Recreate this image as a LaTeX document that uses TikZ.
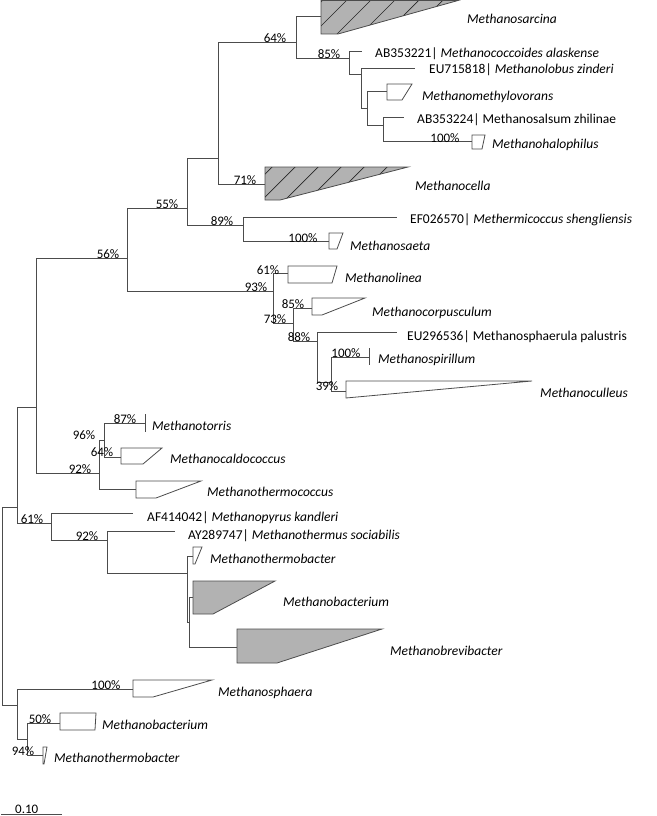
\documentclass[tikz,border=0pt]{standalone}
\usepackage{fontspec}
\setmainfont{Carlito}
\begin{document}
\begin{tikzpicture}[x=1pt,y=-1pt,
  br/.style={draw=black!70, line width=0.8pt},
  cl/.style={draw=black!70, line width=0.8pt, fill=white, line join=miter},
  clg/.style={cl, fill=black!30},
  hatchline/.style={draw=black!85, line width=0.7pt},
  pct/.style={font=\fontsize{13}{13}\selectfont, inner sep=0pt, text height=9pt, text depth=0pt},
  lab/.style={font=\fontsize{13.5}{13.5}\selectfont\itshape, inner sep=0pt, anchor=west, text height=11pt, text depth=3pt},
  leaf/.style={font=\fontsize{13.5}{13.5}\selectfont, inner sep=0pt, anchor=west, text height=11pt, text depth=3pt}]
\useasboundingbox (0,0) rectangle (656,816);

% ---------- internal nodes ----------
\coordinate (root) at (2,606);
\coordinate (u17) at (17,507);
\coordinate (d17) at (17,705);
\coordinate (n36) at (36,407);
\coordinate (n127) at (127,258);
\coordinate (n187) at (187,208);
\coordinate (n218) at (218,158);
\coordinate (n296) at (296,42);
\coordinate (n349) at (349,58);
\coordinate (n361) at (361,74);
\coordinate (n367) at (367,108);
\coordinate (n383) at (383,125);
\coordinate (n243) at (243,225);
\coordinate (n273) at (273,291);
\coordinate (n293) at (293,323);
\coordinate (n317) at (317,341);
\coordinate (n331) at (331,382);
\coordinate (n99) at (99,473);
\coordinate (n104) at (104,440);
\coordinate (n51) at (51,523);
\coordinate (n107) at (107,540);
\coordinate (n187b) at (187,573);
\coordinate (n189) at (189,622);
\coordinate (n27) at (27,739);

% ---------- leaf / clade attach points ----------
\coordinate (aSarcina) at (321,16);
\coordinate (eAB1) at (362,51);
\coordinate (eEU7) at (415,68);
\coordinate (aMethylo) at (387,91);
\coordinate (eAB4) at (404,117);
\coordinate (aHalo) at (472,141);
\coordinate (aCella) at (265,184);
\coordinate (eEF) at (397,217);
\coordinate (aSaeta) at (329,241);
\coordinate (aLinea) at (288,273);
\coordinate (aCorp) at (312,308);
\coordinate (eEU2) at (397,332);
\coordinate (aSpir) at (369,357);
\coordinate (aCull) at (346,391);
\coordinate (aTorris) at (145,423);
\coordinate (aCald) at (121,457);
\coordinate (aTherco) at (136,489);
\coordinate (eAF) at (133,513);
\coordinate (eAY) at (175,531);
\coordinate (aThermob) at (193,556);
\coordinate (aBact) at (193,597);
\coordinate (aBrevi) at (237,647);
\coordinate (aSphaera) at (133,689);
\coordinate (aBact2) at (60,723);
\coordinate (aThermob2) at (43,755);

% ---------- branches ----------
\draw[br] (root) |- (u17);  \draw[br] (root) |- (d17);
\draw[br] (u17) |- (n36);   \draw[br] (u17) |- (n51);
\draw[br] (n36) |- (n127);  \draw[br] (n36) |- (n99);
\draw[br] (n127) |- (n187); \draw[br] (n127) |- (n273);
\draw[br] (n187) |- (n218); \draw[br] (n187) |- (n243);
\draw[br] (n218) |- (n296); \draw[br] (n218) |- (aCella);
\draw[br] (n296) |- (aSarcina); \draw[br] (n296) |- (n349);
\draw[br] (n349) |- (eAB1); \draw[br] (n349) |- (n361);
\draw[br] (n361) |- (eEU7); \draw[br] (n361) |- (n367);
\draw[br] (n367) |- (aMethylo); \draw[br] (n367) |- (n383);
\draw[br] (n383) |- (eAB4); \draw[br] (n383) |- (aHalo);
\draw[br] (n243) |- (eEF);  \draw[br] (n243) |- (aSaeta);
\draw[br] (n273) |- (aLinea); \draw[br] (n273) |- (n293);
\draw[br] (n293) |- (aCorp); \draw[br] (n293) |- (n317);
\draw[br] (n317) |- (eEU2); \draw[br] (n317) |- (n331);
\draw[br] (n331) |- (aSpir); \draw[br] (n331) |- (aCull);
\draw[br] (n99) |- (n104);  \draw[br] (n99) |- (aTherco);
\draw[br] (n104) |- (aTorris); \draw[br] (n104) |- (aCald);
\draw[br] (n51) |- (eAF);   \draw[br] (n51) |- (n107);
\draw[br] (n107) |- (eAY);  \draw[br] (n107) |- (n187b);
\draw[br] (n187b) |- (aThermob); \draw[br] (n187b) |- (n189);
\draw[br] (n189) |- (aBact); \draw[br] (n189) |- (aBrevi);
\draw[br] (d17) |- (aSphaera); \draw[br] (d17) |- (n27);
\draw[br] (n27) |- (aBact2); \draw[br] (n27) |- (aThermob2);

% ---------- collapsed clades ----------
% Methanosarcina (hatched)
\fill[black!30] (321,0.5) -- (458,0.5) -- (338,34) -- (321,34) -- cycle;
\begin{scope}
\clip (321,0.5) -- (458,0.5) -- (338,34) -- (321,34) -- cycle;
\foreach \c in {323,347,...,467} \draw[hatchline] (\c-45,45) -- (\c+5,-5);
\end{scope}
\draw[cl, fill=none] (321,0.5) -- (458,0.5) -- (338,34) -- (321,34) -- cycle;
% Methanocella (hatched)
\fill[black!30] (265,167) -- (408,167) -- (280,200) -- (265,200) -- cycle;
\begin{scope}
\clip (265,167) -- (408,167) -- (280,200) -- (265,200) -- cycle;
\foreach \c in {439,462,...,580} \draw[hatchline] (\c-205,205) -- (\c-162,162);
\end{scope}
\draw[cl, fill=none] (265,167) -- (408,167) -- (280,200) -- (265,200) -- cycle;

\draw[cl] (387,84) -- (412,84) -- (402,100) -- (387,100) -- cycle;
\draw[cl] (472,135) -- (485,135) -- (482,149) -- (472,149) -- cycle;
\draw[cl] (329,233) -- (343,233) -- (337,249) -- (329,249) -- cycle;
\draw[cl] (288,266) -- (337,266) -- (332,283) -- (288,283) -- cycle;
\draw[cl] (312,298) -- (365,298) -- (322,315) -- (312,315) -- cycle;
\draw[br] (369,348) -- (369,365);
\draw[cl] (346,381) -- (532,381) -- (346,398) -- cycle;
\draw[br] (145,414) -- (145,432);
\draw[cl] (121,448) -- (162,448) -- (143,464) -- (121,464) -- cycle;
\draw[cl] (136,481) -- (201,481) -- (156,498) -- (136,498) -- cycle;
\draw[cl] (193,547) -- (202,547) -- (195,564) -- (193,564) -- cycle;
\draw[clg] (193,581) -- (275,581) -- (213,614) -- (193,614) -- cycle;
\draw[clg] (237,629) -- (382,629) -- (277,663) -- (237,663) -- cycle;
\draw[cl] (133,680) -- (212,680) -- (153,697) -- (133,697) -- cycle;
\draw[cl] (60,713) -- (96,713) -- (95,730) -- (60,730) -- cycle;
\draw[cl] (43,747) -- (47,747) -- (44,764) -- (43,764) -- cycle;

% ---------- taxon labels ----------
\node[lab] (tSarcina) at (467,20) {Methanosarcina};
\node[leaf] (tAB1) at (375,53) {AB353221| \textit{Methanococcoides alaskense}};
\node[leaf] (tEU7) at (429,70) {EU715818| \textit{Methanolobus zinderi}};
\node[lab] (tMethylo) at (422,96) {Methanomethylovorans};
\node[leaf] (tAB4) at (417,119) {AB353224| Methanosalsum zhilinae};
\node[lab] (tHalo) at (492,144) {Methanohalophilus};
\node[lab] (tCella) at (415,186) {Methanocella};
\node[leaf] (tEF) at (410,219) {EF026570| \textit{Methermicoccus shengliensis}};
\node[lab] (tSaeta) at (350,246) {Methanosaeta};
\node[lab] (tLinea) at (345,278) {Methanolinea};
\node[lab] (tCorp) at (372,312) {Methanocorpusculum};
\node[leaf] (tEU2) at (407,336) {EU296536| Methanosphaerula palustris};
\node[lab] (tSpir) at (378,359) {Methanospirillum};
\node[lab] (tCull) at (540,393) {Methanoculleus};
\node[lab] (tTorris) at (152,426) {Methanotorris};
\node[lab] (tCald) at (170,459) {Methanocaldococcus};
\node[lab] (tTherco) at (207,492) {Methanothermococcus};
\node[leaf] (tAF) at (147,517) {AF414042| \textit{Methanopyrus kandleri}};
\node[leaf] (tAY) at (188,535) {AY289747| \textit{Methanothermus sociabilis}};
\node[lab] (tThermob) at (210,559) {Methanothermobacter};
\node[lab] (tBact) at (283,602) {Methanobacterium};
\node[lab] (tBrevi) at (390,651) {Methanobrevibacter};
\node[lab] (tSphaera) at (218,692) {Methanosphaera};
\node[lab] (tBact2) at (102,725) {Methanobacterium};
\node[lab] (tThermob2) at (54,758) {Methanothermobacter};

% ---------- bootstrap values ----------
\node[pct] (p64) at (275,38) {64\%};
\node[pct] (p85) at (329,54) {85\%};
\node[pct] (p100h) at (445,138) {100\%};
\node[pct] (p71) at (245,180) {71\%};
\node[pct] (p89) at (222,221) {89\%};
\node[pct] (p100s) at (303,238) {100\%};
\node[pct] (p55) at (167,204) {55\%};
\node[pct] (p56) at (108,254) {56\%};
\node[pct] (p61a) at (268,270) {61\%};
\node[pct] (p93) at (256,287) {93\%};
\node[pct] (p85b) at (293,304) {85\%};
\node[pct] (p73) at (275,319) {73\%};
\node[pct] (p88) at (299,337) {88\%};
\node[pct] (p100sp) at (346,353) {100\%};
\node[pct] (p39) at (327,386) {39\%};
\node[pct] (p87) at (125,419) {87\%};
\node[pct] (p96) at (84,435) {96\%};
\node[pct] (p64b) at (102,452) {64\%};
\node[pct] (p92a) at (80,469) {92\%};
\node[pct] (p61b) at (32,519) {61\%};
\node[pct] (p92b) at (87,536) {92\%};
\node[pct] (p100p) at (106,685) {100\%};
\node[pct] (p50) at (40,719) {50\%};
\node[pct] (p94) at (23,751) {94\%};

% ---------- scale bar ----------
\coordinate (sb1) at (1,814);
\coordinate (sb2) at (62,814);
\draw[br] (sb1) -- (sb2);
\node[pct, anchor=south west] (sbl) at (15,813.5) {0.10};
\end{tikzpicture}
\end{document}
